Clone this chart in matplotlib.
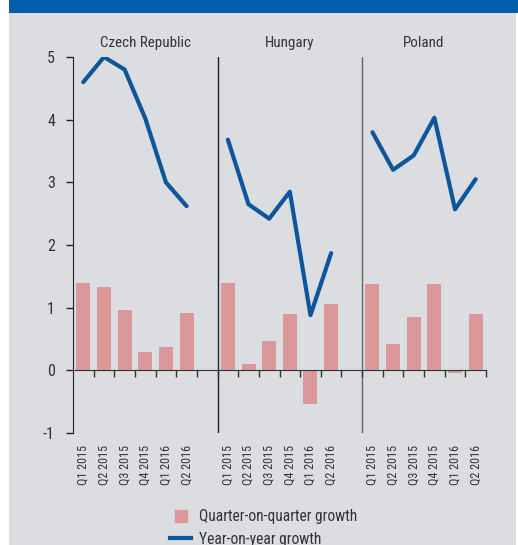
import matplotlib.pyplot as plt
import numpy as np
from matplotlib import font_manager
from matplotlib.patches import Rectangle
from matplotlib.lines import Line2D

# pick a condensed face if one is installed
installed = {f.name for f in font_manager.fontManager.ttflist}
narrow = [f for f in ['Liberation Sans Narrow', 'Roboto Condensed', 'Open Sans Condensed',
                      'DejaVu Sans Condensed', 'Noto Sans Condensed'] if f in installed]
fam = narrow[0] if narrow else 'Liberation Sans'
k = 1.0 if narrow else 0.88
plt.rcParams['font.family'] = [fam, 'DejaVu Sans']
plt.rcParams['axes.unicode_minus'] = False

# data
countries = ['Czech Republic', 'Hungary', 'Poland']
quarters = ['Q1 2015', 'Q2 2015', 'Q3 2015', 'Q4 2015', 'Q1 2016', 'Q2 2016']
qoq = [
    [1.40, 1.33, 0.97, 0.30, 0.38, 0.92],   # Czech Republic
    [1.40, 0.10, 0.47, 0.90, -0.53, 1.06],  # Hungary
    [1.37, 0.42, 0.85, 1.37, -0.04, 0.90],  # Poland
]
yoy = [
    [4.60, 5.00, 4.80, 4.02, 3.00, 2.62],
    [3.68, 2.65, 2.42, 2.85, 0.88, 1.87],
    [3.80, 3.20, 3.43, 4.03, 2.57, 3.05],
]

bar_col = '#db989b'
line_col = '#0d569b'
txt_col = '#333333'

fig = plt.figure(figsize=(5.18, 5.45), dpi=100)
fig.patch.set_facecolor('white')
# grey panel + blue banner
fig.patches.append(Rectangle((9/518, 0), 507/518, 1, transform=fig.transFigure,
                             facecolor='#dcdde0', edgecolor='none', zorder=-2))
fig.patches.append(Rectangle((9/518, 532/545), 509/518, 13/545, transform=fig.transFigure,
                             facecolor='#005eaa', edgecolor='none', zorder=-2))

ax = fig.add_axes([73/518, 112/545, 413/518, 376/545])
ax.set_facecolor('none')
ax.set_zorder(2)

n = len(quarters)
step = n + 1
for g in range(len(countries)):
    x = np.arange(n) + g * step
    ax.bar(x, qoq[g], width=0.68, color=bar_col, zorder=2)
    ax.plot(x, yoy[g], color=line_col, lw=3, solid_joinstyle='round',
            solid_capstyle='round', zorder=3)
    # category labels
    for xi, q in zip(x, quarters):
        ax.text(xi, -12/376, q, transform=ax.get_xaxis_transform(), rotation=90,
                ha='center', va='top', fontsize=8.7 * k, color=txt_col)
    # group titles
    left = g * step - 0.5
    right = min(g * step + n + 0.5, len(countries) * step - 1.5)
    ax.text((left + right) / 2, 1 + 14/376, countries[g], transform=ax.get_xaxis_transform(),
            ha='center', va='center', fontsize=10.8 * k, color=txt_col)
    # separators
    if g > 0:
        ax.axvline(left, color='#222222' if g == 1 else '#666666', lw=1, zorder=1)

ax.set_xlim(-0.5, len(countries) * step - 1.5)
ax.set_ylim(-1, 5)
ax.set_yticks(np.arange(-1, 6, 1))
ax.set_xticks(np.arange(0.5, len(countries) * step - 1, 1))
ax.set_xticklabels([])

for s in ['top', 'right']:
    ax.spines[s].set_visible(False)
ax.spines['bottom'].set_position(('data', 0))
ax.spines['bottom'].set_color('#333333')
ax.spines['left'].set_color('#222222')
ax.tick_params(axis='y', direction='out', length=5, width=1, pad=8,
               labelsize=11.5 * k, labelcolor=txt_col, color='#222222')
ax.tick_params(axis='x', direction='out', length=5, width=1, color='#333333')

handles = [Line2D([], [], marker='s', ls='', color=bar_col, markersize=9),
           Line2D([], [], color=line_col, lw=3)]
fig.legend(handles, ['Quarter-on-quarter growth', 'Year-on-year growth'],
           loc='upper left', bbox_to_anchor=(170/518, 1 - 509/545),
           frameon=False, fontsize=11.2 * k, handlelength=1.35, handletextpad=0.5,
           borderpad=0, borderaxespad=0, labelspacing=0.5,
           labelcolor=txt_col)

fig.savefig('out.png', dpi=100)
